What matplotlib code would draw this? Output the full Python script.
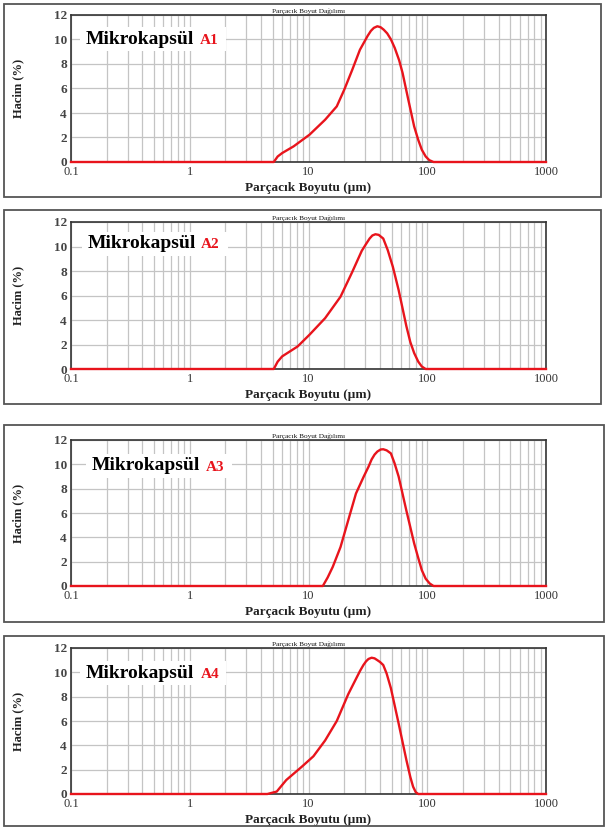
import matplotlib
matplotlib.use("Agg")
import matplotlib.pyplot as plt
from matplotlib.patches import Rectangle
from matplotlib.ticker import LogLocator, FixedLocator, NullFormatter

W, H = 605, 827

# ---------------- data ----------------
a1_x = [0.1, 5.1, 5.5, 6.0, 7.5, 10.2, 13.8, 17.3, 20.0, 23.3, 27.1, 31.5, 33.5, 35.5, 38.0, 40.5, 43.0, 46.0, 49.5, 53.3, 58.0, 62.0, 69.2, 77.6, 84.0, 90.0, 97.0, 104.0, 113.0, 1000.0]
a1_y = [0, 0, 0.45, 0.73, 1.28, 2.23, 3.45, 4.54, 5.9, 7.5, 9.16, 10.3, 10.7, 10.95, 11.08, 11.0, 10.8, 10.5, 10.0, 9.3, 8.3, 7.26, 5.1, 2.9, 1.8, 1.0, 0.45, 0.15, 0, 0]

a2_x = [0.1, 5.1, 5.5, 6.0, 8.1, 10.2, 13.8, 18.6, 23.3, 28.1, 30.5, 32.7, 34.5, 36.6, 39.0, 42.6, 46.5, 51.3, 57.4, 66.7, 72.0, 77.6, 84.0, 90.0, 97.0, 1000.0]
a2_y = [0, 0, 0.6, 1.03, 1.84, 2.8, 4.15, 5.9, 7.9, 9.65, 10.2, 10.65, 10.9, 11.0, 10.95, 10.65, 9.7, 8.35, 6.45, 3.5, 2.2, 1.3, 0.6, 0.2, 0, 0]

a3_x = [0.1, 13.2, 14.5, 16.0, 18.6, 21.6, 25.1, 29.2, 32.0, 34.0, 36.0, 38.0, 40.5, 42.6, 45.5, 49.4, 53.0, 57.4, 66.7, 77.6, 84.0, 90.0, 97.0, 105.0, 113.0, 1000.0]
a3_y = [0, 0, 0.7, 1.57, 3.2, 5.4, 7.6, 9.0, 9.8, 10.4, 10.8, 11.05, 11.22, 11.24, 11.15, 10.9, 10.1, 9.0, 6.2, 3.5, 2.3, 1.3, 0.6, 0.2, 0, 0]

a4_x = [0.1, 4.5, 5.4, 6.5, 8.8, 11.0, 13.8, 17.3, 21.6, 27.1, 29.0, 30.5, 32.0, 34.0, 36.0, 38.0, 40.0, 42.6, 45.5, 49.4, 57.4, 66.7, 72.0, 76.0, 80.0, 84.0, 1000.0]
a4_y = [0, 0, 0.2, 1.15, 2.25, 3.1, 4.4, 6.0, 8.2, 10.1, 10.6, 10.9, 11.1, 11.2, 11.15, 11.0, 10.85, 10.6, 9.9, 8.7, 5.8, 2.8, 1.4, 0.6, 0.15, 0, 0]

series_x = [a1_x, a2_x, a3_x, a4_x]
series_y = [a1_y, a2_y, a3_y, a4_y]
sample_names = ["A1", "A2", "A3", "A4"]

x_ticks = [0.1, 1, 10, 100, 1000]
x_tick_labels = ["0.1", "1", "10", "100", "1000"]
y_ticks = [0, 2, 4, 6, 8, 10, 12]
y_tick_labels = ["0", "2", "4", "6", "8", "10", "12"]

title_text = "Parçacık Boyut Dağılımı"
xlabel_text = "Parçacık Boyutu (µm)"
ylabel_text = "Hacim (%)"
label_word = "Mikrokapsül"

# ---------------- layout (pixels) ----------------
ax_left, ax_right = 71, 546
ax_tops = [15, 222, 440, 648]
ax_bots = [162, 369, 586, 794]
boxes = [(4, 4, 601, 197), (4, 210, 601, 404), (4, 425, 604, 622), (4, 636, 604, 826)]
label_pos = [(86, 39, 200), (88, 244, 201), (92, 466, 206), (86, 673, 201)]

serif = ["Liberation Serif", "DejaVu Serif"]
red = "#e8141c"

fig = plt.figure(figsize=(W / 100, H / 100), dpi=100)
fig.patch.set_facecolor("white")

def fx(x):
    return x / W

def fy(y):
    return 1 - y / H

for i in range(4):
    bx0, by0, bx1, by1 = boxes[i]
    fig.patches.append(Rectangle((fx(bx0), fy(by1)), fx(bx1 - bx0), (by1 - by0) / H,
                                 transform=fig.transFigure, fill=False,
                                 edgecolor="#555555", linewidth=1.3))

    top, bot = ax_tops[i], ax_bots[i]
    ax = fig.add_axes([fx(ax_left), fy(bot), fx(ax_right - ax_left), (bot - top) / H])
    ax.set_xscale("log")
    ax.set_xlim(0.1, 1000)
    ax.set_ylim(0, 12)

    ax.xaxis.set_major_locator(FixedLocator(x_ticks))
    ax.set_xticklabels(x_tick_labels, fontfamily=serif, fontsize=9, color="#333333")
    ax.xaxis.set_minor_locator(LogLocator(base=10, subs=range(2, 10), numticks=20))
    ax.xaxis.set_minor_formatter(NullFormatter())
    ax.set_yticks(y_ticks)
    ax.set_yticklabels(y_tick_labels, fontfamily=serif, fontsize=9.5,
                       color="#444444", fontweight="bold")
    ax.tick_params(axis="both", which="both", length=0)
    ax.tick_params(axis="x", pad=3)
    ax.tick_params(axis="y", pad=3)

    ax.grid(True, which="both", axis="x", color="#c4c4c4", linewidth=0.9)
    ax.grid(True, which="major", axis="y", color="#c4c4c4", linewidth=0.9)
    ax.set_axisbelow(True)
    for sp in ax.spines.values():
        sp.set_color("#333333")
        sp.set_linewidth(1.2)

    ax.plot(series_x[i], series_y[i], color=red, linewidth=1.7,
            clip_on=False, zorder=5, solid_joinstyle="round")

    ax.set_xlabel(xlabel_text, fontfamily=serif, fontsize=9.5, fontweight="bold",
                  color="#222222", labelpad=3)
    ax.set_ylabel(ylabel_text, fontfamily=serif, fontsize=9, fontweight="bold",
                  color="#222222")
    ax.yaxis.set_label_coords((24 - ax_left) / (ax_right - ax_left), 0.5)

    ax.set_title(title_text, fontfamily=serif, fontsize=5.2, color="#111111", pad=1.5)

    lx, ly, ax2x = label_pos[i]
    fig.patches.append(Rectangle((fx(lx - 6), fy(ly + 12)), fx(146), 24 / H,
                                 transform=fig.transFigure, facecolor="white",
                                 edgecolor="none", zorder=3))
    fig.text(fx(lx), fy(ly), label_word, fontfamily=serif, fontsize=14,
             fontweight="bold", color="black", va="center", ha="left", zorder=4)
    fig.text(fx(ax2x), fy(ly + 1), sample_names[i], fontfamily=serif, fontsize=11,
             fontweight="bold", color=red, va="center", ha="left", zorder=4)

fig.savefig("out.png", dpi=100, facecolor="white")
